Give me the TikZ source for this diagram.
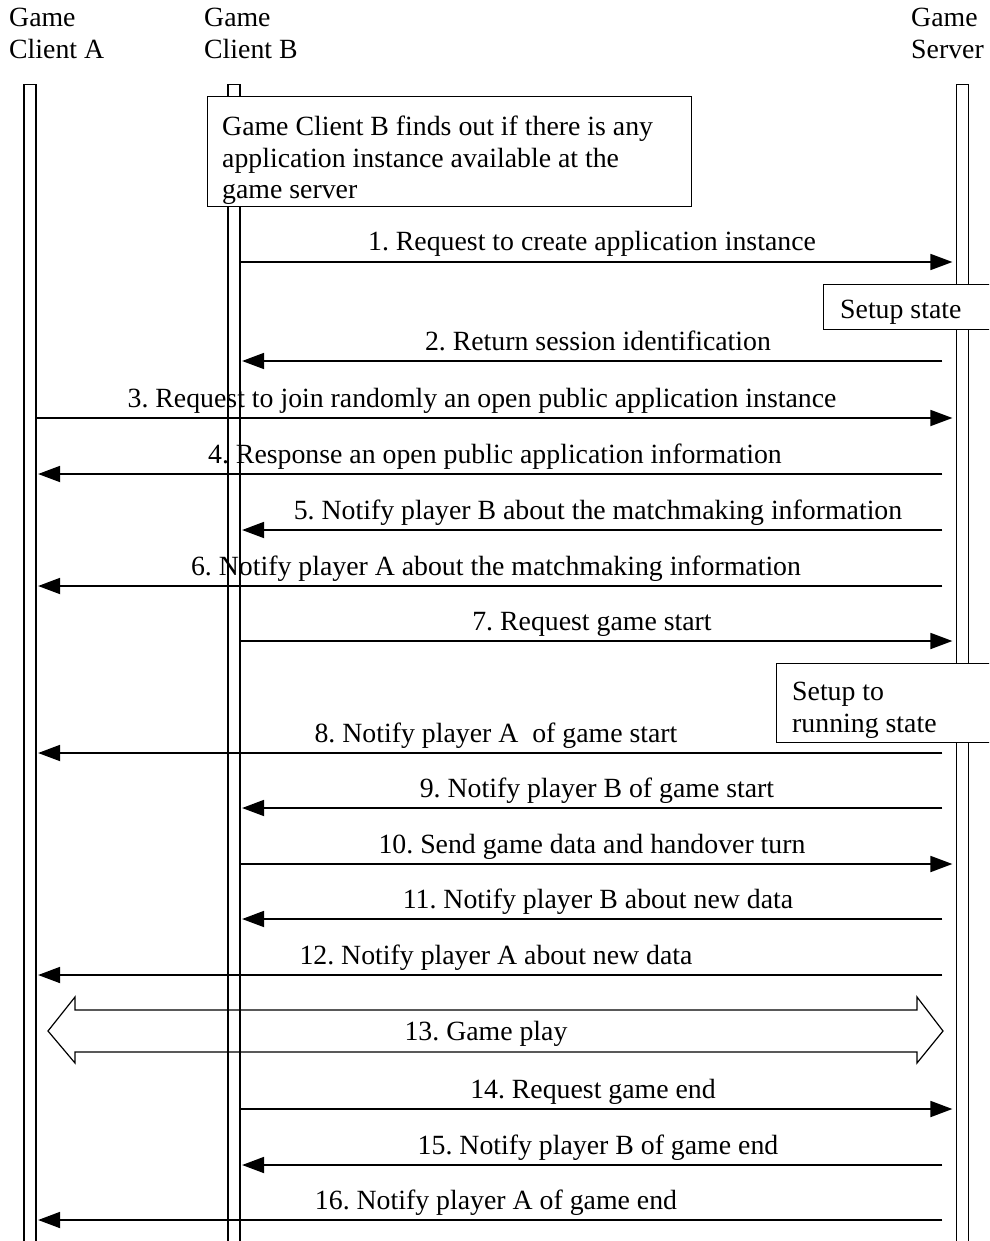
\documentclass[tikz,border=0pt]{standalone}
\usepackage{fontspec}
\setmainfont{Liberation Serif}
\usetikzlibrary{arrows.meta}
\frenchspacing
\begin{document}
\begin{tikzpicture}[x=1pt,y=-1pt,
  every node/.style={font=\fontsize{27.8}{32}\selectfont, inner sep=0pt},
  lifeline/.style={draw, line width=1.2pt, minimum width=12pt, minimum height=1200pt, anchor=north},
  msg/.style={line width=1.8pt, -{Triangle[length=22pt,width=16pt]}},
  lbl/.style={anchor=base},
  txt/.style={anchor=base west},
  note/.style={draw, fill=white, line width=1.2pt, anchor=north west}]
\useasboundingbox (0,0) rectangle (989,1241);
\clip (0,0) rectangle (989,1241);

% lifelines
\node[lifeline] (barA) at (30,84) {};
\node[lifeline] (barB) at (234,84) {};
\node[lifeline] (barS) at (962.5,84) {};

% participant names
\node[txt] (hA1) at (9,27) {Game};
\node[txt] (hA2) at (9,59) {Client A};
\node[txt] (hB1) at (204,27) {Game};
\node[txt] (hB2) at (204,59) {Client B};
\node[txt] (hS1) at (911,27) {Game};
\node[txt] (hS2) at (911,59) {Server};

% message end points on the activation bars
\coordinate (aOut) at (barA.east);
\coordinate (bOut) at (barB.east);
\coordinate (aIn) at ([xshift=1.5pt]barA.east);
\coordinate (bIn) at ([xshift=1.5pt]barB.east);
\coordinate (sOut) at ([xshift=-13.5pt]barS.west);
\coordinate (sIn) at ([xshift=-3.5pt]barS.west);

% note on client B
\node[note, minimum width=484pt, minimum height=110pt] (find) at (207,96) {};
\node[txt] (f1) at (222,136) {Game Client B finds out if there is any};
\node[txt] (f2) at (222,167.5) {application instance available at the};
\node[txt] (f3) at (222,199) {game server};

% messages
\draw[msg] (bOut |- 0,262) -- (sIn |- 0,262);
\node[lbl] (m1) at (592,251) {1. Request to create application instance};

\node[note, minimum width=200pt, minimum height=45pt] (setup) at (823,284) {};
\node[txt] (setupt) at (840,318) {Setup state};

\draw[msg] (sOut |- 0,361) -- (bIn |- 0,361);
\node[lbl] (m2) at (598,350) {2. Return session identification};

\draw[msg] (aOut |- 0,418) -- (sIn |- 0,418);
\node[lbl] (m3) at (482,407) {3. Request to join randomly an open public application instance};

\draw[msg] (sOut |- 0,474) -- (aIn |- 0,474);
\node[lbl] (m4) at (495,463) {4. Response an open public application information};

\draw[msg] (sOut |- 0,530) -- (bIn |- 0,530);
\node[lbl] (m5) at (598,519) {5. Notify player B about the matchmaking information};

\draw[msg] (sOut |- 0,586) -- (aIn |- 0,586);
\node[lbl] (m6) at (496,575) {6. Notify player A about the matchmaking information};

\draw[msg] (bOut |- 0,641) -- (sIn |- 0,641);
\node[lbl] (m7) at (592,630) {7. Request game start};

\node[note, minimum width=250pt, minimum height=79pt] (running) at (776,663) {};
\node[txt] (run1) at (792,700) {Setup to};
\node[txt] (run2) at (792,732) {running state};

\draw[msg] (sOut |- 0,753) -- (aIn |- 0,753);
\node[lbl] (m8) at (496,742) {8. Notify player A\ \ of game start};

\draw[msg] (sOut |- 0,808) -- (bIn |- 0,808);
\node[lbl] (m9) at (597,797) {9. Notify player B of game start};

\draw[msg] (bOut |- 0,864) -- (sIn |- 0,864);
\node[lbl] (m10) at (592,853) {10. Send game data and handover turn};

\draw[msg] (sOut |- 0,919) -- (bIn |- 0,919);
\node[lbl] (m11) at (598,908) {11. Notify player B about new data};

\draw[msg] (sOut |- 0,975) -- (aIn |- 0,975);
\node[lbl] (m12) at (496,964) {12. Notify player A about new data};

% game play, both directions
\draw[line width=1.2pt] (48,1031) -- (75,997) -- (75,1010) -- (917,1010) -- (917,997)
  -- (943,1031) -- (917,1063) -- (917,1052) -- (75,1052) -- (75,1063) -- cycle;
\node[lbl] (m13) at (486,1040) {13. Game play};

\draw[msg] (bOut |- 0,1109) -- (sIn |- 0,1109);
\node[lbl] (m14) at (593,1098) {14. Request game end};

\draw[msg] (sOut |- 0,1165) -- (bIn |- 0,1165);
\node[lbl] (m15) at (598,1154) {15. Notify player B of game end};

\draw[msg] (sOut |- 0,1220) -- (aIn |- 0,1220);
\node[lbl] (m16) at (496,1209) {16. Notify player A of game end};
\end{tikzpicture}
\end{document}
